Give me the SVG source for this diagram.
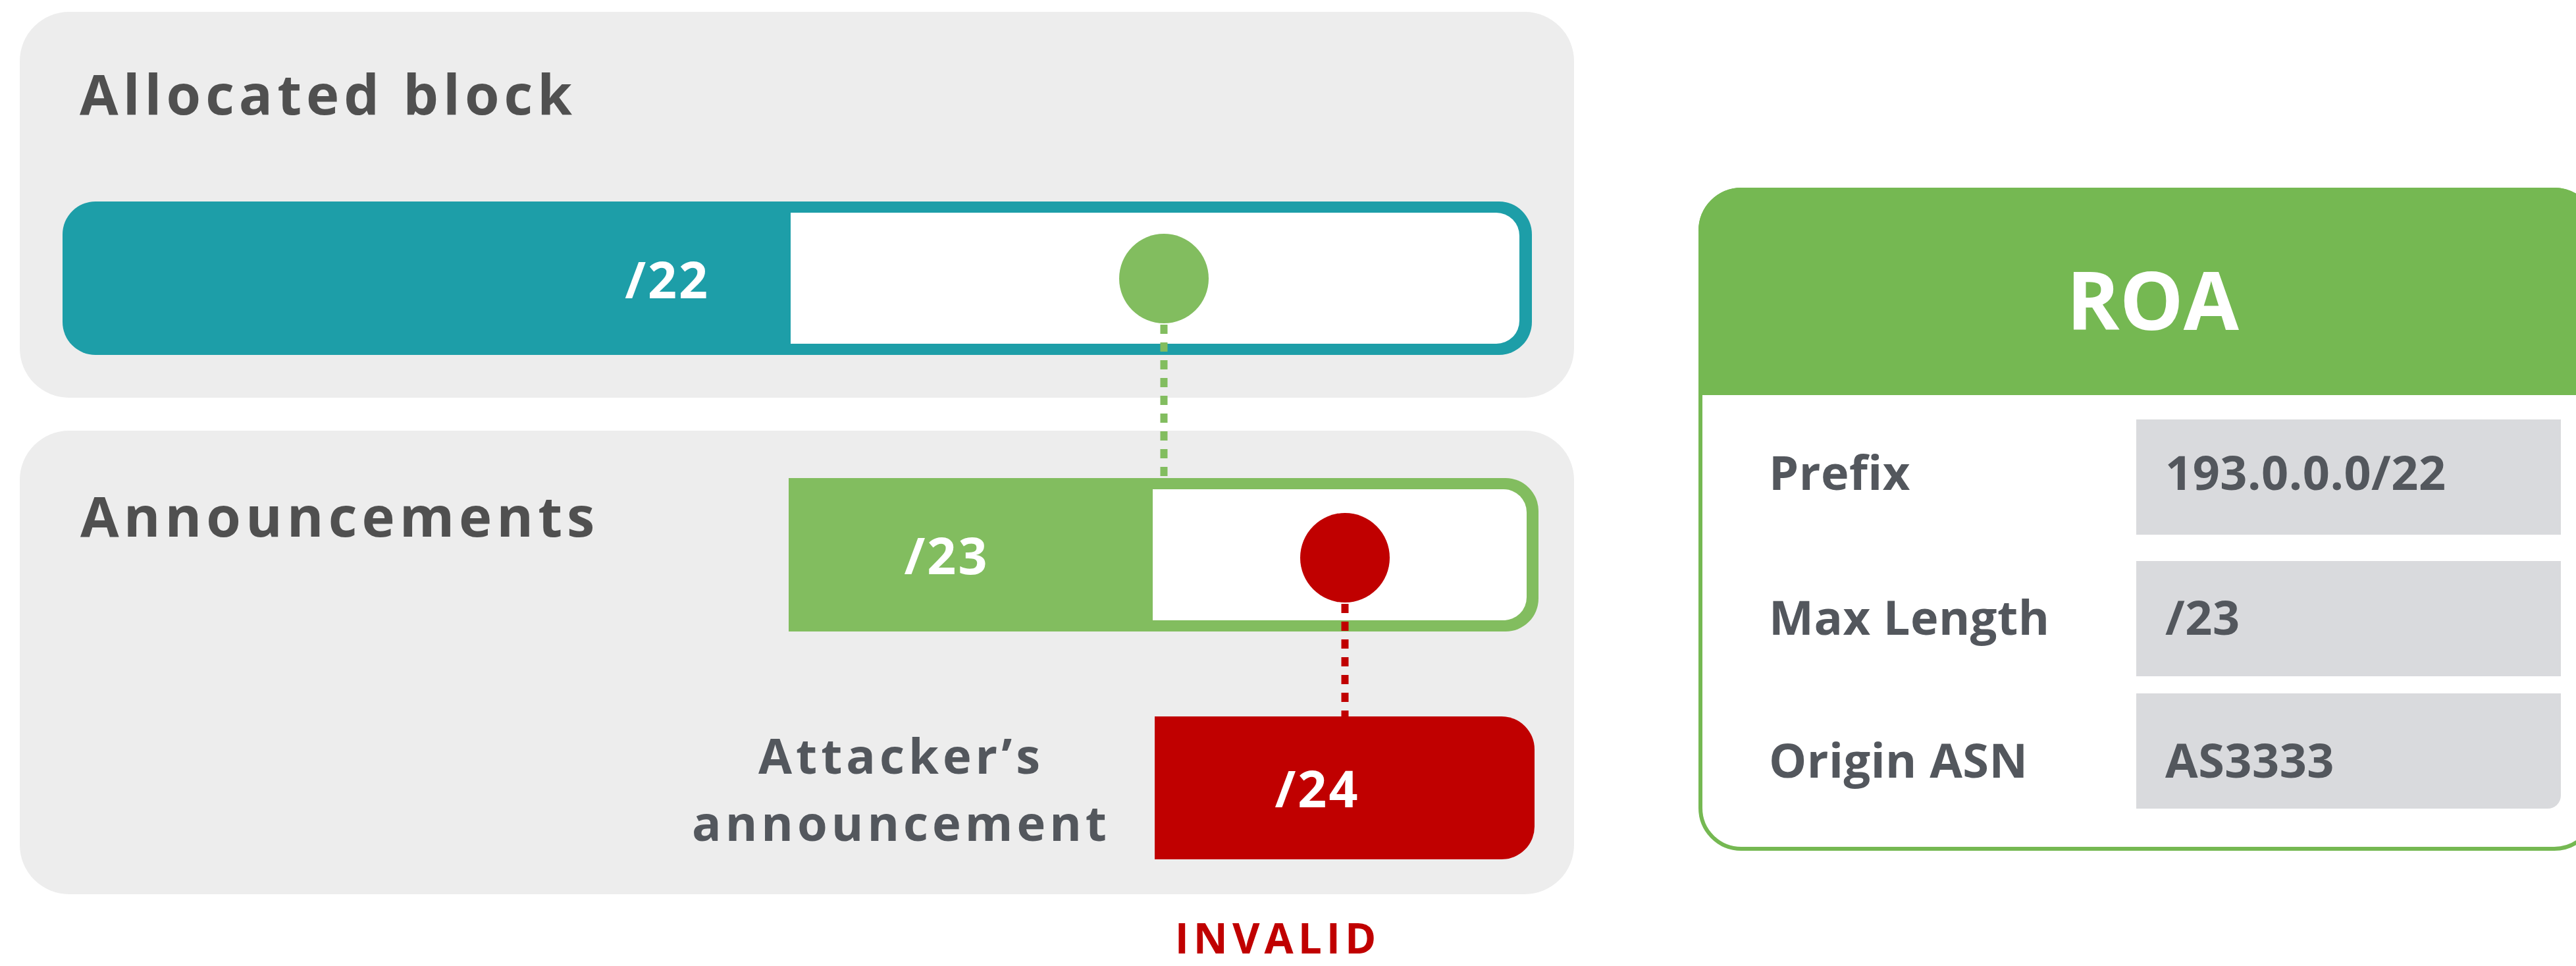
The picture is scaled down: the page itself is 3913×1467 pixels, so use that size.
<svg xmlns="http://www.w3.org/2000/svg" width="3913" height="1467" viewBox="0 0 3913 1467">
<style>
.t{font-family:"Open Sans","Liberation Sans",sans-serif;font-weight:700}
.panel{fill:#EDEDED}
.h{fill:#505050;font-size:85px;letter-spacing:7px}
.w{fill:#FFFFFF;font-size:77px;letter-spacing:3px}
.lbl{fill:#53575D;font-size:72px;letter-spacing:0.5px}
.val{fill:#D9DADD}
</style>
<rect width="3913" height="1467" fill="#FFFFFF"/>
<g id="allocated-block">
<rect class="panel" x="30" y="18" width="2361" height="586" rx="75"/>
<text class="t h" x="121" y="174">Allocated block</text>
<rect x="95" y="306" width="2232" height="233" rx="50" fill="#1D9EA8"/>
<path d="M1201 323 H2273 A35 35 0 0 1 2308 358 V487 A35 35 0 0 1 2273 522 H1201 Z" fill="#FFFFFF"/>
<text class="t w" x="1078" y="453" text-anchor="end">/22</text>
<circle cx="1768" cy="423" r="68" fill="#82BD5F"/>
</g>
<g id="announcements">
<rect class="panel" x="30" y="654" width="2361" height="704" rx="75"/>
<text class="t h" x="122" y="815">Announcements</text>
</g>
<g id="announcement-23">
<path d="M1198 726 H2287 A50 50 0 0 1 2337 776 V909 A50 50 0 0 1 2287 959 H1198 Z" fill="#82BD5F"/>
<path d="M1751 743 H2284 A35 35 0 0 1 2319 778 V907 A35 35 0 0 1 2284 942 H1751 Z" fill="#FFFFFF"/>
<text class="t w" x="1438" y="872" text-anchor="middle">/23</text>
<circle cx="2043" cy="847" r="68" fill="#C00000"/>
</g>
<g id="attacker-24">
<path d="M1754 1088 H2281 A50 50 0 0 1 2331 1138 V1255 A50 50 0 0 1 2281 1305 H1754 Z" fill="#C00000"/>
<text class="t w" x="2001" y="1226" text-anchor="middle">/24</text>
<text class="t" x="1369" y="1175" text-anchor="middle" fill="#53575D" font-size="74" letter-spacing="6">Attacker’s</text>
<text class="t" x="1369" y="1277" text-anchor="middle" fill="#53575D" font-size="74" letter-spacing="6">announcement</text>
</g>
<g id="invalid">
<text class="t" x="1941" y="1448" text-anchor="middle" fill="#C00000" font-size="64" letter-spacing="7">INVALID</text>
</g>
<g id="connectors" fill="none" stroke-width="11" stroke-dasharray="14 13">
<line x1="1768" y1="493" x2="1768" y2="726" stroke="#82BD5F"/>
<line x1="2043" y1="917" x2="2043" y2="1088" stroke="#C00000"/>
</g>
<g id="roa">
<path d="M2583 350 A62 62 0 0 1 2645 288 H3880 A62 62 0 0 1 3942 350 V1227 A62 62 0 0 1 3880 1289 H2645 A62 62 0 0 1 2583 1227 Z" fill="#FFFFFF" stroke="#75B852" stroke-width="6"/>
<path d="M2580 350 A65 65 0 0 1 2645 285 H3880 A65 65 0 0 1 3945 350 V600 H2580 Z" fill="#75B852"/>
<text class="t" x="3270" y="501" text-anchor="middle" fill="#FFFFFF" font-size="122">ROA</text>
<rect class="val" x="3245" y="637" width="645" height="175"/>
<rect class="val" x="3245" y="852" width="645" height="175"/>
<path class="val" d="M3245 1053 H3890 V1208 A20 20 0 0 1 3870 1228 H3245 Z"/>
<text class="t lbl" x="2687" y="744">Prefix</text>
<text class="t lbl" x="2687" y="964">Max Length</text>
<text class="t lbl" x="2687" y="1181">Origin ASN</text>
<text class="t lbl" x="3289" y="744">193.0.0.0/22</text>
<text class="t lbl" x="3289" y="964">/23</text>
<text class="t lbl" x="3289" y="1181">AS3333</text>
</g>
</svg>
